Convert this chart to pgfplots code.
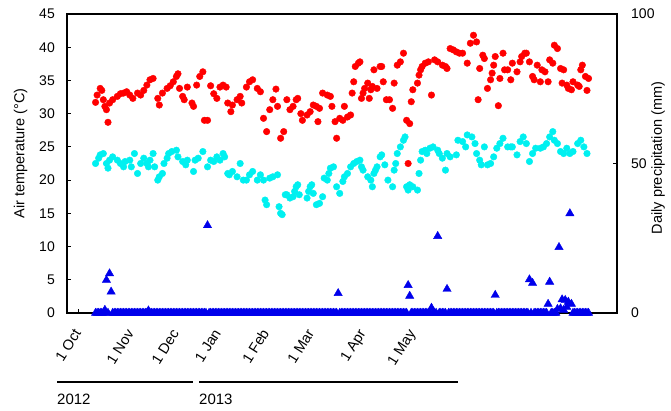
\documentclass[border=0pt]{standalone}
\usepackage{fontspec}
\setmainfont{Liberation Sans}
\usepackage{pgfplots}
\pgfplotsset{compat=1.18}
\definecolor{tmaxc}{RGB}{255,0,0}
\definecolor{tminc}{RGB}{0,240,240}
\definecolor{precc}{RGB}{0,0,235}
\begin{document}
\begin{tikzpicture}
\path[use as bounding box] (0,0) rectangle (671pt,410pt);
\begin{axis}[
  at={(67pt,97pt)}, anchor=south west,
  scale only axis, width=550pt, height=299pt,
  xmin=-8.36, xmax=345.3, ymin=0, ymax=45,
  axis line style={line width=1.5pt},
  tick style={line width=1pt, black},
  tick align=inside, major tick length=4pt,
  xtick pos=left, ytick pos=left,
  xtick={-1,33,62,89,120,149,182,214},
  xticklabels={1 Oct,1 Nov,1 Dec,1 Jan,1 Feb,1 Mar,1 Apr,1 May},
  xticklabel style={rotate=58, anchor=east, inner sep=0pt, text height=10.5pt, text depth=3pt, font=\fontsize{14.5}{17}\selectfont},
  xticklabel shift=18pt,
  ytick={0,5,...,45},
  yticklabel style={inner sep=0pt, xshift=-12pt, font=\fontsize{14}{16}\selectfont},
  /pgf/number format/assume math mode=true,
  clip=false,
]
\addplot[only marks, mark=*, mark size=3.3pt, color=tmaxc] coordinates {
(10,31.7)(11,32.8)(13,33.8)(14,33.5)(15,32.1)(16,31.1)(17,30.6)(18,28.7)(19,31.6)(21,32.1)(24,32.6)(26,33.0)(28,33.1)(30,33.3)(32,32.8)(34,32.3)(37,33.1)(39,32.8)(41,33.5)(43,34.3)(45,35.1)(47,35.3)(50,32.3)(51,31.3)(53,33.1)(56,33.8)(58,34.2)(60,34.8)(62,35.6)(63,36.0)(64,33.8)(66,32.6)(67,32.1)(69,34.0)(72,31.6)(73,31.1)(75,34.3)(77,35.6)(79,36.3)(80,29.0)(82,29.0)(84,34.2)(86,33.0)(88,32.3)(90,34.0)(92,34.3)(94,34.0)(95,31.6)(97,30.3)(98,31.3)
(101,32.1)(103,32.6)(104,31.6)(107,34.0)(109,34.8)(111,35.1)(114,33.8)(116,33.3)(118,29.3)(120,27.3)(122,30.6)(124,32.1)(126,33.7)(127,31.1)(129,26.3)(131,27.3)(133,32.1)(135,30.6)(137,31.1)(139,32.1)(140,32.3)(142,30.0)(143,29.0)(146,29.8)(148,30.3)(150,31.3)(152,31.1)(153,28.8)(154,30.8)(156,33.1)(159,32.8)(161,32.6)(162,31.1)(164,28.8)(165,26.3)(167,29.3)(169,29.0)(170,31.1)(172,29.5)(174,29.8)(175,33.1)(176,34.8)(177,37.1)(179,37.6)(180,37.8)(181,32.3)(182,33.1)(183,33.8)(185,34.6)(186,32.3)(187,33.6)(188,34.1)(189,36.6)(191,33.8)(193,37.1)(194,37.1)(195,34.8)(197,32.1)(199,32.1)
(201,30.8)(202,34.6)(204,37.3)(206,37.8)(208,39.1)(210,29.0)(211,22.5)(212,28.5)(213,31.8)(214,33.6)(217,34.6)(218,35.8)(219,36.6)(220,37.1)(222,37.6)(224,37.8)(226,32.8)(228,38.1)(230,37.8)(233,37.3)(235,37.1)(236,36.8)(238,39.8)(240,39.6)(242,39.3)(244,39.1)(246,39.1)(249,37.6)(251,40.6)(253,41.8)(255,40.8)(256,32.1)(257,36.8)(259,38.8)(260,38.3)(262,33.8)(264,35.1)(265,36.1)(266,37.3)(267,38.6)(269,31.2)(270,35.3)(272,39.1)(273,36.6)(275,36.6)(277,35.1)(278,37.6)(281,36.3)(283,37.8)(284,38.6)(286,39.1)(287,39.1)(289,37.8)(291,35.6)(292,35.1)(294,37.3)(296,34.8)(297,36.6)(299,36.3)
(301,34.8)(302,38.1)(304,37.6)(305,40.3)(307,39.8)(309,36.8)(310,34.6)(311,36.6)(313,34.3)(314,33.8)(316,33.6)(317,34.8)(320,34.3)(321,34.1)(322,36.6)(323,37.3)(325,35.6)(326,33.5)(327,35.3)
};
\addplot[only marks, mark=*, mark size=3.3pt, color=tminc] coordinates {
(10,22.5)(12,23.3)(13,23.8)(15,24.0)(17,22.5)(18,21.8)(19,23.0)(21,23.5)(24,23.0)(26,22.5)(28,22.0)(29,22.8)(32,23.0)(33,22.0)(35,24.0)(37,21.0)(39,22.5)(41,23.3)(43,22.5)(44,22.0)(45,23.0)(47,24.0)(48,22.0)(50,20.0)(51,20.5)(53,21.0)(54,22.5)(56,23.3)(57,24.0)(59,24.3)(62,24.5)(63,23.5)(66,22.8)(68,22.3)(69,23.0)(73,21.3)(74,23.0)(76,23.3)(79,24.3)(82,22.0)(84,23.0)(86,22.8)(88,23.5)(90,23.0)(92,24.0)(93,23.5)(95,21.0)(96,20.8)(98,21.3)
(101,20.5)(103,22.5)(105,20.0)(107,20.0)(109,20.8)(111,21.3)(114,20.0)(116,20.8)(118,20.0)(119,17.0)(120,16.3)(122,20.3)(124,20.5)(127,20.8)(128,16.0)(129,15.0)(130,14.8)(132,17.8)(133,17.8)(135,17.3)(137,17.5)(138,18.3)(139,19.0)(140,19.3)(141,17.8)(146,17.3)(147,18.3)(148,19.0)(149,19.3)(150,18.0)(152,16.3)(154,16.5)(156,17.5)(157,20.3)(159,20.0)(160,21.0)(161,21.8)(163,22.0)(165,19.0)(167,18.0)(169,19.8)(170,20.5)(172,21.0)(174,22.0)(176,22.5)(178,22.8)(180,23.0)(181,22.0)(182,21.5)(185,20.5)(187,20.0)(188,19.0)(189,21.0)(190,21.5)(191,22.0)(193,23.5)(194,23.8)(196,22.3)(198,20.0)
(201,19.0)(202,21.5)(203,22.5)(204,24.0)(206,25.0)(208,26.0)(209,26.5)(210,19.0)(211,18.5)(212,19.3)(214,19.0)(217,18.5)(218,21.0)(219,23.0)(220,24.3)(222,24.5)(223,24.0)(225,24.8)(227,25.0)(230,24.5)(231,24.0)(233,23.3)(235,21.5)(236,24.0)(238,23.5)(242,23.8)(243,26.0)(246,25.8)(248,25.0)(249,26.8)(252,26.5)(254,25.5)(255,24.0)(257,23.0)(258,22.3)(260,25.0)(262,22.3)(264,22.5)(266,23.5)(268,24.8)(270,25.5)(272,26.3)(275,25.0)(277,25.0)(278,25.0)(281,23.8)(283,25.8)(285,26.5)(287,25.5)(289,22.8)(291,24.0)(293,24.8)(296,24.8)(298,25.0)
(300,25.5)(302,26.5)(304,27.3)(305,26.0)(307,25.5)(309,24.3)(311,24.0)(313,24.8)(315,24.0)(317,24.3)(320,25.5)(322,26.0)(324,25.0)(326,24.0)
};
\end{axis}
\begin{axis}[
  at={(67pt,97pt)}, anchor=south west,
  scale only axis, width=550pt, height=299pt,
  xmin=-8.36, xmax=345.3, ymin=0, ymax=100,
  axis x line=none, axis y line*=right,
  axis line style={line width=1.5pt},
  tick style={line width=1pt, black},
  tick align=inside, major tick length=4pt,
  ytick={0,50,100},
  yticklabel style={inner sep=0pt, anchor=west, xshift=14pt, font=\fontsize{14}{16}\selectfont},
  /pgf/number format/assume math mode=true,
  clip=false,
]
\addplot[only marks, mark=triangle*, mark size=4.8pt, color=precc] coordinates {
(10,0)(11,0)(12,0)(13,0)(14,0)(15,0)(16,1.0)(17,11.0)(18,0)(19,13.2)
(20,7.1)(21,0)(22,0)(23,0)(24,0)(25,0)(26,0)(27,0)(28,0)(29,0)
(30,0)(31,0)(32,0)(33,0)(34,0)(35,0)(36,0)(37,0)(38,0)(39,0)
(40,0)(41,0)(42,0)(43,0)(44,0.8)(45,0)(46,0)(47,0)(48,0)(49,0)
(50,0)(51,0)(52,0)(53,0)(54,0)(55,0)(56,0)(57,0)(58,0)(59,0)
(60,0)(61,0)(62,0)(63,0)(64,0)(65,0)(66,0)(67,0)(68,0)(69,0)
(70,0)(71,0)(72,0)(73,0)(74,0)(75,0)(76,0)(77,0)(78,0)(79,0)
(80,0)(81,0)(82,29.3)(83,0)(84,0)(85,0)(86,0)(87,0)(88,0)(89,0)
(90,0)(91,0)(92,0)(93,0)(94,0)(95,0)(96,0)(97,0)(98,0)(99,0)
(100,0)(101,0)(102,0)(103,0)(104,0)(105,0)(106,0)(107,0)(108,0)(109,0)
(110,0)(111,0)(112,0)(113,0)(114,0)(115,0)(116,0)(117,0)(118,0)(119,0)
(120,0)(121,0)(122,0)(123,0)(124,0)(125,0)(126,0)(127,0)(128,0)(129,0)
(130,0)(131,0)(132,0)(133,0)(134,0)(135,0)(136,0)(137,0)(138,0)(139,0)
(140,0)(141,0)(142,0)(143,0)(144,0)(145,0)(146,0)(147,0)(148,0)(149,0)
(150,0)(151,0)(152,0)(153,0)(154,0)(155,0)(156,0)(157,0)(158,0)(159,0)
(160,0)(161,0)(162,0)(163,0)(164,0)(165,0)(166,6.6)(167,0)(168,0)(169,0)
(170,0)(171,0)(172,0)(173,0)(174,0)(175,0)(176,0)(177,0)(178,0)(179,0)
(180,0)(181,0)(182,0)(183,0)(184,0)(185,0)(186,0)(187,0)(188,0)(189,0)
(190,0)(191,0)(192,0)(193,0)(194,0)(195,0)(196,0)(197,0)(198,0)(199,0)
(200,0)(201,0)(202,0)(203,0)(204,0)(205,0)(206,0)(207,0)(208,0)(209,0)
(210,0)(211,9.3)(212,5.7)(213,0)(214,0)(215,0)(216,0)(217,0)(218,0)(219,0)
(220,0)(221,0)(222,0)(223,0)(224,0)(225,0)(226,1.7)(227,0)(228,0)(229,0)
(230,25.7)(231,0)(232,0)(233,0)(234,0)(235,0)(236,8.0)(237,0)(238,0)(239,0)
(240,0)(241,0)(242,0)(243,0)(244,0)(245,0)(246,0)(247,0)(248,0)(249,0)
(250,0)(251,0)(252,0)(253,0)(254,0)(255,0)(256,0)(257,0)(258,0)(259,0)
(260,0)(261,0)(262,0)(263,0)(264,0)(265,0)(266,0)(267,6.0)(268,0)(269,0)
(270,0)(271,0)(272,0)(273,0)(274,0)(275,0)(276,0)(277,0)(278,0)(279,0)
(280,0)(281,0)(282,0)(283,0)(284,0)(285,0)(286,0)(287,0)(288,0)(289,11.2)
(290,0)(291,10.0)(292,0)(293,0)(294,0)(295,0)(296,0)(297,0)(298,0)(299,0)
(300,0)(301,3.0)(302,10.4)(303,0)(304,0)(305,0)(306,0)(307,1.3)(308,22.0)(309,1.5)
(310,4.5)(311,1.0)(312,4.3)(313,2.0)(314,3.7)(315,33.3)(316,3.0)(317,0)(318,0)(319,0)
(320,0)(321,0)(322,0)(323,0)(324,0)(325,0)(326,0)(327,0)
};
\end{axis}
\node[rotate=90, font=\fontsize{14.5}{16}\selectfont] at (20.7pt,256.5pt) {Air temperature (°C)};
\node[rotate=90, font=\fontsize{14.5}{16}\selectfont] at (658pt,252pt) {Daily precipitation (mm)};
\draw[line width=1.2pt] (57pt,28pt) -- (193pt,28pt);
\draw[line width=1.2pt] (199pt,28pt) -- (458pt,28pt);
\node[anchor=west, inner sep=0pt, font=\fontsize{15}{17}\selectfont] at (57pt,11pt) {2012};
\node[anchor=west, inner sep=0pt, font=\fontsize{15}{17}\selectfont] at (199pt,11pt) {2013};
\end{tikzpicture}
\end{document}
